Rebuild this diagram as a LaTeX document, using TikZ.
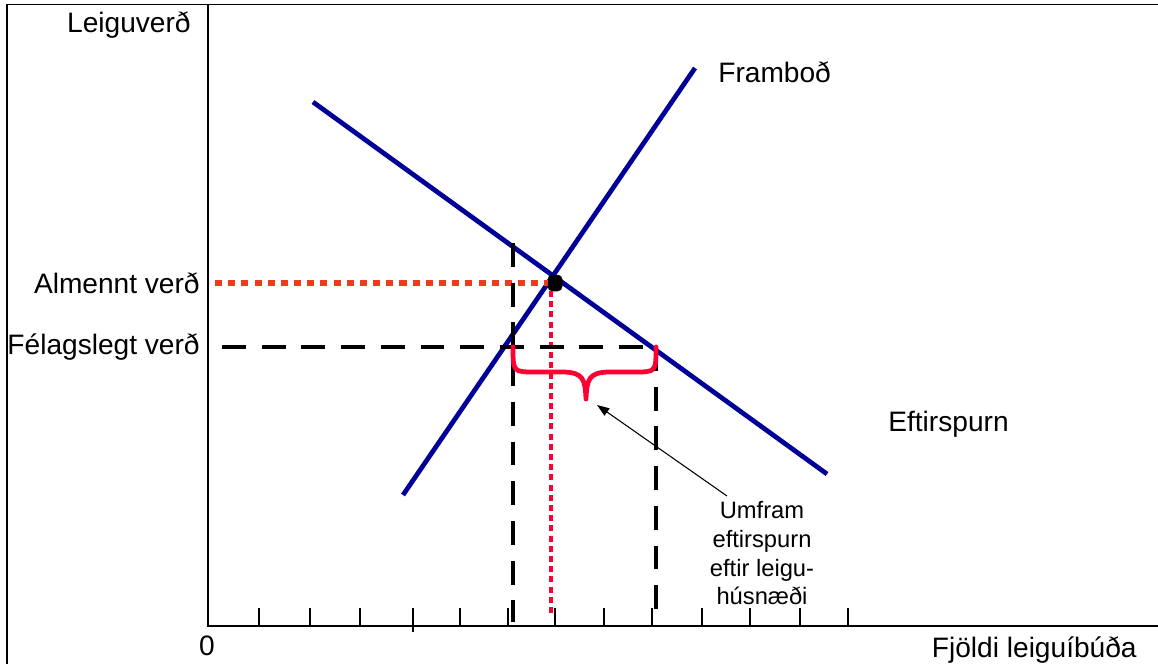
\documentclass[tikz,border=0pt]{standalone}
\usepackage{fontspec}
\setmainfont{Liberation Sans}
\usetikzlibrary{arrows.meta}
\definecolor{navy}{RGB}{0,0,153}
\definecolor{pricered}{RGB}{232,62,32}
\definecolor{qred}{RGB}{255,0,51}
\tikzset{
  frame/.style   = {line width=0.9pt},
  axis/.style    = {line width=0.8pt},
  tick/.style    = {line width=0.6pt},
  curve/.style   = {line width=2.7pt, draw=navy},
  pline/.style   = {line width=3pt, draw=pricered, dash pattern=on 4pt off 3.5pt},
  qline/.style   = {line width=2.5pt, draw=qred, dash pattern=on 3.4pt off 2.4pt},
  dline/.style   = {line width=2.8pt, dash pattern=on 13.6pt off 9pt},
  brace/.style   = {line width=2.7pt, draw=qred, line join=round, line cap=round},
  eqdot/.style   = {draw, fill=black, rectangle, rounded corners=2.5pt,
                    minimum width=8pt, minimum height=9pt, inner sep=0pt},
  lbl/.style     = {font=\fontsize{16}{19}\selectfont, inner sep=0pt},
  note/.style    = {font=\fontsize{13.5}{16.4}\selectfont, align=center, inner sep=0pt},
  pointer/.style = {line width=0.6pt, -{Triangle[length=7pt,width=5pt]}},
}

\begin{document}
\begin{tikzpicture}[x=0.02cm, y=-0.02cm]
  \useasboundingbox (0,0) rectangle (1158,664);
  % frame and axes
  \draw[frame] (7,664) -- (7,4.5) -- (1158,4.5);
  \draw[axis] (208,4.5) -- (208,626) -- (1158,626);
  \foreach \x/\b in {259/626,310/626,360/626,413/632,460/626,508/626,555/626,
                     604/626,652/626,702/626,750/626,800/626,848/626}
    \draw[tick] (\x,608) -- (\x,\b);
  % axis labels
  \node[lbl, anchor=east] (pname) at (191,25) {Leiguverð};
  \node[lbl] (zero) at (207,646) {0};
  \node[lbl, anchor=east] (qname) at (1137,650) {Fjöldi leiguíbúða};
  \node[lbl, anchor=east] (almennt) at (200,283) {Almennt verð};
  \node[lbl, anchor=east] (felags) at (200,347) {Félagslegt verð};
  % curves
  \coordinate (d0) at (313,102);
  \coordinate (d1) at (827,474);
  \coordinate (s0) at (403,495);
  \coordinate (s1) at (695,68);
  \draw[curve] (d0) -- (d1);
  \draw[curve] (s0) -- (s1);
  \node[lbl, anchor=west] (supname) at (718,72) {Framboð};
  \node[lbl, anchor=west] (demname) at (888,424) {Eftirspurn};
  % market price
  \node[eqdot] (eq) at (555,283) {};
  \coordinate (pa) at (215,283);
  \coordinate (pb) at (548,283);
  \coordinate (qa) at (551,291);
  \coordinate (qb) at (551,615);
  \draw[pline] (pa) -- (pb);
  \draw[qline] (qa) -- (qb);
  % social price
  \coordinate (fa) at (222,347);
  \coordinate (fb) at (656,347);
  \coordinate (la) at (513,243);
  \coordinate (lb) at (513,622);
  \coordinate (rb) at (656,622);
  \draw[dline] (fa) -- (fb);
  \draw[dline] (la) -- (lb);
  \draw[dline] (fb) -- (rb);
  % shortage brace
  \coordinate (bl) at (513,347);
  \coordinate (bt) at (586,399);
  \draw[brace] (bl) .. controls (513,372) .. (536,372) -- (562,372)
    .. controls (584,372) and (585,380) .. (bt)
    .. controls (587,380) and (588,372) .. (610,372) -- (634,372)
    .. controls (656,372) .. (fb);
  \node[note, anchor=north] (note) at (762,501)
    {Umfram\\eftirspurn\\eftir leigu-\\húsnæði};
  \coordinate (ptail) at (727,496);
  \coordinate (ptip) at (597,405);
  \draw[pointer] (ptail) -- (ptip);
\end{tikzpicture}
\end{document}
